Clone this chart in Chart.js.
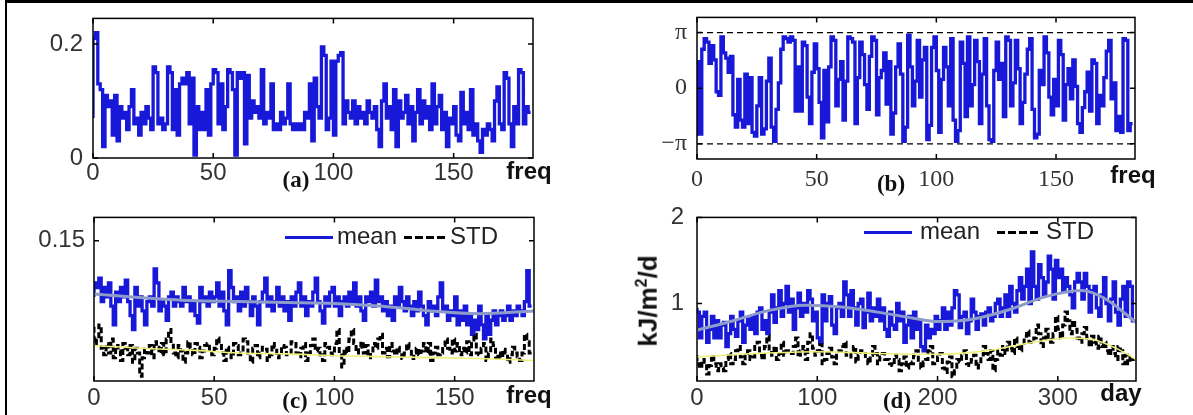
<!DOCTYPE html>
<html>
<head>
<meta charset="utf-8">
<script src="https://cdn.jsdelivr.net/npm/chart.js@4.4.1/dist/chart.umd.min.js"></script>
<style>
  body { margin: 0; background: #fff; width: 1193px; height: 415px; position: relative; overflow: hidden; font-family: "Liberation Sans", Arial, sans-serif; }
  #frameTop { position: absolute; left: 5px; top: 0; width: 1188px; height: 3px; background: #000; }
  #frameLeft { position: absolute; left: 5px; top: 0; width: 2px; height: 415px; background: #000; }
  canvas { position: absolute; }
  .t { position: absolute; transform: translate(-50%, -50%); white-space: nowrap; line-height: 1; color: #111; }
  .ax { font-weight: bold; font-size: 24px; }
  .pl { font-family: "Liberation Serif", serif; font-weight: bold; font-size: 23px; }
  .lg { position: absolute; height: 0; font-size: 24px; color: #222; }
  .lg span { position: absolute; top: -13px; line-height: 1; }
  .lg i { position: absolute; top: -1px; height: 3px; background: #1818d8; }
  .lg b { position: absolute; top: -1px; height: 3px; background: repeating-linear-gradient(90deg, #000 0 8px, transparent 8px 11px); }
</style>
</head>
<body>
<div id="frameTop"></div>
<div id="frameLeft"></div>

<canvas id="chartA"></canvas>
<canvas id="chartB"></canvas>
<canvas id="chartC"></canvas>
<canvas id="chartD"></canvas>

<div class="t pl" style="left:296px;top:179px">(a)</div>
<div class="t ax" style="left:529px;top:171px">freq</div>
<div class="t pl" style="left:891px;top:183px">(b)</div>
<div class="t ax" style="left:1133px;top:175px">freq</div>
<div class="t pl" style="left:295px;top:400px">(c)</div>
<div class="t ax" style="left:529px;top:395px">freq</div>
<div class="t pl" style="left:897px;top:400px">(d)</div>
<div class="t ax" style="left:1121px;top:393px">day</div>
<div class="t ax" style="left:647px;top:301px;font-size:26px;transform:translate(-50%,-50%) rotate(-90deg)">kJ/m<sup style="font-size:16px">2</sup>/d</div>

<div class="lg" style="left:285px;top:237px">
  <i style="left:0;width:48px"></i><span style="left:52px">mean</span>
  <b style="left:119px;width:41px"></b><span style="left:165px">STD</span>
</div>
<div class="lg" style="left:864px;top:232px">
  <i style="left:0;width:48px"></i><span style="left:56px">mean</span>
  <b style="left:133px;width:43px"></b><span style="left:182px">STD</span>
</div>

<script>
// one value per frequency bin; days are sampled every 2 days
const freqStep = 1;
const dayStep = 2;

const freqTicks = [0, 50, 100, 150];
const dayTicks = [0, 100, 200, 300];

// (a) amplitude
const ampA = [
  0.07, 0.21, 0.22, 0.13, 0.12, 0.02, 0.11, 0.09, 0.10, 0.04, 0.11, 0.03, 0.09, 0.07, 0.08, 0.05, 0.09, 0.12, 0.06, 0.07,
  0.04, 0.08, 0.06, 0.09, 0.07, 0.05, 0.16, 0.15, 0.06, 0.07, 0.05, 0.06, 0.16, 0.15, 0.05, 0.12, 0.04, 0.13, 0.14, 0.13,
  0.15, 0.06, 0.14, 0.005, 0.09, 0.05, 0.08, 0.05, 0.12, 0.04, 0.13, 0.155, 0.15, 0.06, 0.13, 0.05, 0.09, 0.155, 0.15, 0.12,
  0.005, 0.15, 0.14, 0.15, 0.025, 0.145, 0.07, 0.10, 0.08, 0.09, 0.07, 0.155, 0.06, 0.08, 0.07, 0.13, 0.05, 0.06, 0.05, 0.08,
  0.06, 0.07, 0.13, 0.06, 0.05, 0.06, 0.05, 0.06, 0.05, 0.08, 0.07, 0.13, 0.03, 0.14, 0.09, 0.07, 0.195, 0.18, 0.05, 0.07,
  0.17, 0.04, 0.17, 0.18, 0.185, 0.06, 0.10, 0.08, 0.07, 0.10, 0.06, 0.09, 0.07, 0.08, 0.06, 0.10, 0.08, 0.07, 0.09, 0.05,
  0.02, 0.10, 0.13, 0.07, 0.09, 0.05, 0.12, 0.02, 0.10, 0.07, 0.08, 0.11, 0.06, 0.09, 0.03, 0.08, 0.12, 0.06, 0.10, 0.07,
  0.09, 0.05, 0.13, 0.06, 0.09, 0.11, 0.05, 0.08, 0.02, 0.07, 0.06, 0.09, 0.04, 0.03, 0.115, 0.06, 0.08, 0.05, 0.12, 0.04,
  0.06, 0.03, 0.01, 0.05, 0.04, 0.06, 0.05, 0.03, 0.10, 0.125, 0.06, 0.05, 0.15, 0.14, 0.06, 0.02, 0.09, 0.06, 0.155, 0.15,
  0.06, 0.09, 0.08];
const yTicksA = [0, 0.2];
const yLabelsA = ["0", "0.2"];

// (b) phase
const phaseB = [
  -2.7, 1.5, -2.6, 2.2, 2.8, 2.6, 1.4, 2.4, 1.6, -0.2, -0.4, 2.9, 2.0, 1.7, 0.9, 1.8, -1.5, -2.2, 0.5, -1.8,
  -2.2, 0.8, -2.0, 0.6, -2.5, -2.7, -1.0, 0.6, -2.6, -2.3, 0.4, 1.7, -2.2, -3.0, -1.2, 0.3, 2.2, 2.9, 2.8, 2.6,
  2.9, 2.7, -1.3, 1.2, -1.3, 2.6, 2.4, -0.5, -2.0, 0.9, 2.5, 1.1, -0.8, -2.8, 1.0, -1.9, 1.2, 2.9, 2.7, -1.0,
  0.5, 1.5, -1.8, 0.4, 2.9, 2.8, 2.6, -2.0, 0.6, 2.6, 1.9, 0.2, -1.2, 1.8, 2.9, 2.7, -1.5, 0.6, 1.0, 2.0,
  -0.9, 1.5, -2.6, -1.4, 1.2, 2.5, 0.8, -3.0, -2.2, 3.0, 1.2, -1.0, 0.4, 2.7, -0.5, 1.6, 2.3, -2.9, -2.1, 2.3,
  2.9, 1.0, -2.5, 0.5, 2.3, 1.2, -1.0, 2.8, -1.8, -3.0, -2.4, 2.6, 1.4, -1.6, 2.9, -1.0, 0.2, 2.7, 1.5, -2.0,
  0.8, 2.8, -1.0, -2.9, -3.0, 1.0, 2.6, 0.5, 1.4, -1.6, 2.9, 2.7, -1.0, 0.3, 2.7, 1.1, -2.0, -0.8, 0.8, 2.2,
  2.8, -1.2, -2.8, -2.6, 1.0, 0.2, 2.9, 2.0, -0.5, -1.5, 0.5, -1.0, 2.7, 1.9, -1.8, 0.2, 1.1, -0.6, 1.6, 0.1,
  -2.0, -2.5, -1.1, -0.2, 0.9, -1.3, 1.6, 1.4, -2.0, -0.4, -1.0, 0.6, 2.1, 2.7, -0.6, 0.3, -2.4, -1.6, -2.5, 2.8,
  2.7, -2.4, -2.0];
const piLevels = [Math.PI, -Math.PI];
const yTicksB = [-Math.PI, 0, Math.PI];
const yLabelsB = ["\u2212\u03c0", "0", "\u03c0"];

// (c) mean and STD over frequency
const meanC = [
  0.09, 0.105, 0.10, 0.11, 0.085, 0.10, 0.09, 0.105, 0.08, 0.06, 0.095, 0.085, 0.10, 0.09, 0.108, 0.085, 0.07, 0.055, 0.10, 0.08,
  0.09, 0.075, 0.06, 0.085, 0.09, 0.08, 0.12, 0.105, 0.075, 0.085, 0.08, 0.065, 0.09, 0.095, 0.08, 0.09, 0.085, 0.08, 0.10, 0.085,
  0.09, 0.075, 0.085, 0.07, 0.062, 0.10, 0.085, 0.09, 0.08, 0.095, 0.085, 0.09, 0.105, 0.08, 0.095, 0.075, 0.06, 0.118, 0.10, 0.085,
  0.09, 0.075, 0.095, 0.08, 0.10, 0.085, 0.07, 0.09, 0.08, 0.06, 0.085, 0.095, 0.11, 0.08, 0.09, 0.075, 0.085, 0.10, 0.08, 0.09,
  0.075, 0.085, 0.065, 0.09, 0.08, 0.095, 0.105, 0.08, 0.09, 0.07, 0.085, 0.08, 0.095, 0.11, 0.085, 0.075, 0.062, 0.09, 0.08, 0.095,
  0.10, 0.08, 0.09, 0.07, 0.085, 0.09, 0.08, 0.095, 0.085, 0.105, 0.08, 0.09, 0.075, 0.065, 0.09, 0.085, 0.095, 0.08, 0.108, 0.085,
  0.09, 0.075, 0.085, 0.07, 0.08, 0.065, 0.09, 0.08, 0.10, 0.085, 0.075, 0.09, 0.08, 0.07, 0.085, 0.075, 0.095, 0.08, 0.07, 0.06,
  0.085, 0.075, 0.08, 0.07, 0.09, 0.105, 0.075, 0.08, 0.065, 0.075, 0.07, 0.09, 0.06, 0.075, 0.065, 0.08, 0.06, 0.07, 0.05, 0.065,
  0.055, 0.08, 0.06, 0.045, 0.07, 0.05, 0.065, 0.075, 0.06, 0.07, 0.075, 0.065, 0.07, 0.08, 0.065, 0.075, 0.07, 0.08, 0.075, 0.07,
  0.085, 0.118, 0.08];
const stdC = [
  0.058, 0.04, 0.045, 0.06, 0.035, 0.028, 0.04, 0.03, 0.045, 0.025, 0.038, 0.032, 0.022, 0.04, 0.035, 0.028, 0.038, 0.02, 0.035, 0.03,
  0.005, 0.025, 0.034, 0.03, 0.038, 0.025, 0.042, 0.036, 0.03, 0.04, 0.028, 0.045, 0.055, 0.04, 0.03, 0.025, 0.038, 0.032, 0.02, 0.03,
  0.042, 0.035, 0.028, 0.04, 0.036, 0.025, 0.032, 0.038, 0.04, 0.03, 0.028, 0.035, 0.046, 0.04, 0.03, 0.022, 0.036, 0.03, 0.025, 0.04,
  0.038, 0.028, 0.03, 0.045, 0.042, 0.03, 0.02, 0.035, 0.038, 0.025, 0.03, 0.036, 0.034, 0.022, 0.028, 0.04, 0.036, 0.025, 0.03, 0.038,
  0.036, 0.028, 0.03, 0.042, 0.04, 0.03, 0.026, 0.035, 0.04, 0.022, 0.03, 0.038, 0.045, 0.032, 0.035, 0.028, 0.022, 0.04, 0.036, 0.03,
  0.028, 0.04, 0.055, 0.03, 0.015, 0.035, 0.03, 0.045, 0.055, 0.04, 0.03, 0.036, 0.042, 0.03, 0.038, 0.025, 0.03, 0.04, 0.035, 0.045,
  0.05, 0.03, 0.035, 0.026, 0.04, 0.032, 0.028, 0.036, 0.03, 0.024, 0.03, 0.04, 0.035, 0.024, 0.03, 0.035, 0.028, 0.032, 0.04, 0.03,
  0.04, 0.022, 0.03, 0.036, 0.028, 0.03, 0.038, 0.045, 0.035, 0.03, 0.045, 0.032, 0.04, 0.028, 0.035, 0.03, 0.042, 0.028, 0.04, 0.05,
  0.03, 0.028, 0.035, 0.04, 0.022, 0.03, 0.045, 0.038, 0.025, 0.03, 0.025, 0.034, 0.03, 0.02, 0.028, 0.036, 0.03, 0.026, 0.022, 0.03,
  0.05, 0.042, 0.03];
const trendFreq = [0, 20, 40, 60, 80, 100, 120, 140, 160, 183];
const trendMeanC = [0.093, 0.089, 0.086, 0.085, 0.084, 0.083, 0.080, 0.075, 0.072, 0.075];
const trendStdC = [0.038, 0.035, 0.033, 0.030, 0.029, 0.027, 0.026, 0.025, 0.024, 0.022];
const yTicksC = [0.15];
const yLabelsC = ["0.15"];

// (d) mean and STD over days
const meanD = [
  0.95, 0.9, 0.6, 0.85, 0.9, 0.55, 0.7, 0.85, 0.6, 0.8, 0.6, 0.75, 0.78, 0.5, 0.65, 0.85, 0.7, 0.62, 0.8, 0.9,
  0.55, 0.75, 0.82, 0.7, 0.85, 0.65, 0.9, 0.95, 0.7, 0.8, 0.65, 0.9, 1.1, 0.78, 0.95, 1.15, 0.85, 1.0, 1.2, 0.9,
  1.05, 0.7, 0.95, 1.12, 0.85, 1.0, 0.9, 1.15, 1.05, 0.8, 0.9, 0.6, 0.55, 1.1, 0.8, 1.0, 1.08, 0.75, 0.65, 0.95,
  1.0, 0.85, 1.25, 1.1, 0.85, 1.15, 0.95, 0.75, 1.0, 1.05, 0.72, 0.9, 1.12, 0.8, 0.95, 0.85, 1.05, 0.8, 0.95, 0.7,
  0.62, 0.9, 0.75, 0.7, 1.0, 0.8, 0.9, 0.55, 0.75, 0.85, 0.6, 0.9, 0.7, 0.8, 0.5, 0.45, 0.75, 0.6, 0.7, 0.65,
  0.85, 0.7, 0.8, 0.95, 0.7, 0.9, 0.75, 0.95, 1.15, 1.1, 0.72, 0.85, 0.9, 0.65, 0.8, 1.05, 0.9, 0.7, 0.85, 0.88,
  0.75, 0.9, 0.95, 0.8, 0.85, 1.0, 1.05, 0.85, 0.95, 1.1, 0.85, 1.2, 1.0, 0.9, 1.15, 1.3, 1.05, 1.2, 1.4, 1.0,
  1.6, 1.2, 1.05, 1.45, 1.3, 1.1, 1.25, 1.55, 1.4, 1.05, 1.5, 1.3, 1.4, 1.15, 1.3, 1.2, 1.1, 0.95, 1.25, 1.35,
  1.25, 1.05, 1.35, 1.2, 0.9, 1.15, 1.2, 0.95, 0.85, 1.1, 1.3, 1.0, 0.8, 1.05, 1.25, 0.9, 0.75, 1.05, 1.2, 0.85,
  1.25, 1.2, 0.8];
const stdD = [
  0.4, 0.3, 0.25, 0.35, 0.3, 0.18, 0.28, 0.4, 0.3, 0.22, 0.3, 0.25, 0.22, 0.35, 0.42, 0.3, 0.35, 0.45, 0.5, 0.38,
  0.3, 0.42, 0.45, 0.35, 0.38, 0.5, 0.55, 0.4, 0.35, 0.5, 0.62, 0.45, 0.4, 0.5, 0.35, 0.42, 0.55, 0.4, 0.45, 0.42,
  0.42, 0.5, 0.6, 0.38, 0.45, 0.5, 0.35, 0.55, 0.65, 0.48, 0.4, 0.45, 0.52, 0.3, 0.35, 0.42, 0.48, 0.38, 0.3, 0.4,
  0.45, 0.5, 0.55, 0.4, 0.38, 0.45, 0.5, 0.32, 0.4, 0.45, 0.45, 0.35, 0.3, 0.4, 0.5, 0.42, 0.3, 0.38, 0.42, 0.35,
  0.35, 0.3, 0.28, 0.4, 0.35, 0.22, 0.3, 0.38, 0.25, 0.32, 0.3, 0.4, 0.45, 0.3, 0.25, 0.32, 0.35, 0.45, 0.5, 0.3,
  0.3, 0.38, 0.42, 0.25, 0.2, 0.32, 0.38, 0.15, 0.22, 0.35, 0.32, 0.4, 0.45, 0.3, 0.28, 0.35, 0.4, 0.25, 0.3, 0.38,
  0.5, 0.42, 0.35, 0.45, 0.22, 0.35, 0.45, 0.4, 0.5, 0.42, 0.55, 0.48, 0.42, 0.6, 0.5, 0.45, 0.5, 0.62, 0.68, 0.55,
  0.55, 0.6, 0.75, 0.65, 0.5, 0.6, 0.7, 0.58, 0.55, 0.65, 0.85, 0.7, 0.6, 0.75, 0.9, 0.8, 0.65, 0.8, 0.7, 0.6,
  0.55, 0.65, 0.72, 0.6, 0.5, 0.62, 0.55, 0.48, 0.62, 0.5, 0.55, 0.45, 0.4, 0.5, 0.42, 0.35, 0.5, 0.45, 0.3, 0.4,
  0.3, 0.38, 0.35];
const trendDay = [0, 30, 60, 90, 120, 150, 180, 200, 230, 260, 290, 320, 340, 365];
const trendMeanD = [0.69, 0.80, 0.92, 0.98, 0.96, 0.90, 0.83, 0.79, 0.82, 0.93, 1.08, 1.15, 1.05, 0.78];
const trendStdDay = [0, 50, 100, 150, 200, 240, 280, 310, 330, 350, 365];
const trendStdD = [0.38, 0.42, 0.44, 0.42, 0.41, 0.45, 0.55, 0.60, 0.58, 0.47, 0.35];
const yTicksD = [1, 2];
const yLabelsD = ["1", "2"];

const BLUE = "#1818d8";
const TREND = "#8d9cc8";
const YELLOW = "#eef07a";

const pts = (vals, step) => vals.map((v, i) => ({ x: i * step, y: v }));
const pairs = (xs, ys) => xs.map((x, i) => ({ x, y: ys[i] }));

function stairs(vals, step, color, dash) {
  return { data: pts(vals, step), borderColor: color, borderWidth: dash ? 3 : 3.3, borderDash: dash || [],
    stepped: "after", pointRadius: 0, fill: false };
}
function smooth(xs, ys, color, width) {
  return { data: pairs(xs, ys), borderColor: color, borderWidth: width, tension: 0.4,
    cubicInterpolationMode: "monotone", pointRadius: 0, fill: false };
}

// box with inward ticks on all four sides, as in the original figure
const boxPlugin = {
  id: "box",
  afterDraw(chart) {
    const { ctx, chartArea: a, scales: { x, y } } = chart;
    ctx.save();
    ctx.strokeStyle = "#000";
    ctx.lineWidth = 1.5;
    ctx.beginPath();
    x.ticks.forEach(t => {
      const px = x.getPixelForValue(t.value);
      ctx.moveTo(px, a.bottom); ctx.lineTo(px, a.bottom - 5);
      ctx.moveTo(px, a.top); ctx.lineTo(px, a.top + 5);
    });
    y.ticks.forEach(t => {
      const py = y.getPixelForValue(t.value);
      ctx.moveTo(a.left, py); ctx.lineTo(a.left + 5, py);
      ctx.moveTo(a.right, py); ctx.lineTo(a.right - 5, py);
    });
    ctx.stroke();
    ctx.strokeRect(a.left, a.top, a.right - a.left, a.bottom - a.top);
    ctx.restore();
  }
};

const SANS = "'Liberation Sans', Arial, sans-serif";
const SERIF = "'Liberation Serif', 'Times New Roman', serif";

function makeChart(cv, cfg, L, T, R, B) {
  const font = { family: cfg.family || SANS, size: 24 };
  return new Chart(cv, {
    type: "line",
    data: { datasets: cfg.datasets },
    options: {
      responsive: false,
      maintainAspectRatio: false,
      animation: false,
      events: [],
      layout: { padding: { left: 0, top: T, right: R, bottom: 0 } },
      plugins: { legend: { display: false }, tooltip: { enabled: false } },
      scales: {
        x: {
          type: "linear", min: cfg.xMin, max: cfg.xMax,
          grid: { display: false, drawTicks: false }, border: { display: false },
          afterFit: s => { s.height = B; },
          afterBuildTicks: s => { s.ticks = cfg.xTicks.map(v => ({ value: v })); },
          ticks: { font, color: "#333", padding: cfg.xPad, maxRotation: 0, autoSkip: false,
            callback: v => String(v) }
        },
        y: {
          type: "linear", min: cfg.yMin, max: cfg.yMax,
          grid: { display: false, drawTicks: false }, border: { display: false },
          afterFit: s => { s.width = L; },
          afterBuildTicks: s => { s.ticks = cfg.yTicks.map(v => ({ value: v })); },
          ticks: { font, color: "#333", padding: cfg.yPad, autoSkip: false,
            callback: (v, i) => cfg.yLabels[i] }
        }
      }
    },
    plugins: [boxPlugin]
  });
}

// build the chart, then grow the canvas by whatever room Chart.js kept for itself,
// and place it so the plot box lands on the wanted page position
function panel(id, box, cfg) {
  const L = 70, T = 16, R = 16, B = 40;
  const cv = document.getElementById(id);
  const w = box.r - box.l + L + R;
  const h = box.b - box.t + T + B;
  cv.width = w; cv.height = h;
  let chart = makeChart(cv, cfg, L, T, R, B);
  const a = chart.chartArea;
  const extraH = (box.b - box.t) - (a.bottom - a.top);
  const extraW = (box.r - box.l) - (a.right - a.left);
  if (extraH || extraW) {
    chart.destroy();
    cv.width = w + extraW; cv.height = h + extraH;
    cv.style.width = cv.width + "px"; cv.style.height = cv.height + "px";
    chart = makeChart(cv, cfg, L, T, R, B);
  }
  cv.style.left = (box.l - chart.chartArea.left) + "px";
  cv.style.top = (box.t - chart.chartArea.top) + "px";
  return chart;
}

panel("chartA", { l: 93, t: 18, r: 533, b: 158 }, {
  xMin: 0, xMax: 183, xTicks: freqTicks, xPad: 1,
  yMin: 0, yMax: 0.245, yTicks: yTicksA, yLabels: yLabelsA, yPad: 10,
  datasets: [stairs(ampA, freqStep, BLUE)]
});

panel("chartB", { l: 697, t: 17, r: 1135, b: 159 }, {
  family: SERIF,
  xMin: 0, xMax: 183, xTicks: freqTicks, xPad: 6,
  yMin: -4, yMax: 4, yTicks: yTicksB, yLabels: yLabelsB, yPad: 10,
  datasets: piLevels.map(p => ({ data: pairs([0, 183], [p, p]), borderColor: "#000", borderWidth: 1.3,
    borderDash: [6, 4], pointRadius: 0, fill: false }))
    .concat([stairs(phaseB, freqStep, BLUE)])
});

panel("chartC", { l: 94, t: 217, r: 534, b: 381 }, {
  xMin: 0, xMax: 183, xTicks: freqTicks, xPad: 3,
  yMin: 0, yMax: 0.175, yTicks: yTicksC, yLabels: yLabelsC, yPad: 9,
  datasets: [
    smooth(trendFreq, trendMeanC, TREND, 3),
    smooth(trendFreq, trendStdC, YELLOW, 1.6),
    stairs(stdC, freqStep, "#000", [6, 3]),
    stairs(meanC, freqStep, BLUE)
  ]
});

panel("chartD", { l: 697, t: 217, r: 1136, b: 381 }, {
  xMin: 0, xMax: 365, xTicks: dayTicks, xPad: 3,
  yMin: 0.1, yMax: 2, yTicks: yTicksD, yLabels: yLabelsD, yPad: 13,
  datasets: [
    smooth(trendDay, trendMeanD, TREND, 3),
    smooth(trendStdDay, trendStdD, YELLOW, 1.6),
    stairs(stdD, dayStep, "#000", [6, 3]),
    stairs(meanD, dayStep, BLUE)
  ]
});
</script>
</body>
</html>
